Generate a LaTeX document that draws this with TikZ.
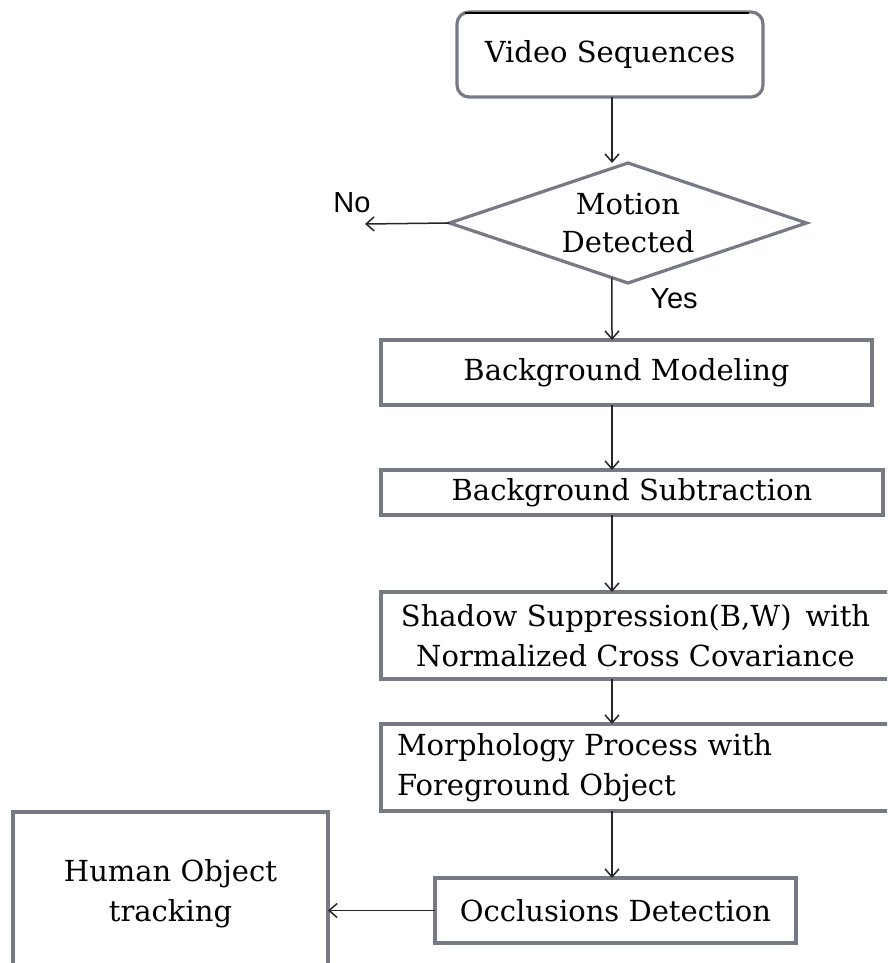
\documentclass[tikz,border=0pt]{standalone}
\usepackage{fontspec}
\setmainfont{DejaVu Serif}
\newfontfamily\labfont{Liberation Sans}
\usetikzlibrary{arrows.meta,shapes.geometric,calc}
\definecolor{boxgray}{RGB}{118,123,131}
\begin{document}
\begin{tikzpicture}[x=1pt,y=-1pt,
  box/.style={draw=boxgray,line width=3.2pt,fill=white,inner sep=0pt,outer sep=0pt,
    font=\fontsize{29}{40}\selectfont,align=center,text=black},
  arr/.style={draw=black!85,line width=1.5pt,-{Straight Barb[length=8pt,width=14pt,line width=1.5pt]}},
  lab/.style={font=\labfont\fontsize{29}{34}\selectfont,inner sep=0pt}]
\useasboundingbox (0,0) rectangle (887,963);
\clip (0,0) rectangle (887,963);
\fill[white] (0,0) rectangle (887,963);

\node[box,rounded corners=12pt,minimum width=306pt,minimum height=85pt] (vid) at (610,54.5) {Video Sequences};
\node[box,diamond,aspect=2.975,minimum width=357pt,minimum height=120pt] (dia) at (628,223) {Motion\\[-2pt]Detected};
\node[box,minimum width=491pt,minimum height=65pt] (bm) at (626.5,372.5) {Background Modeling};
\node[box,minimum width=502pt,minimum height=45pt] (bs) at (632,492.5) {Background Subtraction};
\node[box,minimum width=509pt,minimum height=87pt] (sh) at (635.5,635.5) {Shadow Suppression(B,W)\, with\\Normalized Cross Covariance};
\node[box,minimum width=509pt,minimum height=87pt,text width=477pt,inner xsep=16pt,align=left] (mo) at (635.5,767.5) {Morphology Process with\\Foreground Object};
\node[box,minimum width=361pt,minimum height=65pt] (oc) at (615.5,910.5) {Occlusions Detection};
\node[box,minimum width=315pt,minimum height=163pt] (hu) at (170.5,893.5) {Human Object\\tracking};

\coordinate (ax) at (612,0);
\coordinate (noend) at (365,224);

\draw[arr] (vid.south -| ax) -- (dia.north -| ax);
\draw[arr] ($(dia.south)!0.09!(dia.west)$) -- (bm.north -| ax);
\draw[arr] (dia.west) -- (noend);
\draw[arr] (bm.south -| ax) -- (bs.north -| ax);
\draw[arr] (bs.south -| ax) -- (sh.north -| ax);
\draw[arr] (sh.south -| ax) -- (mo.north -| ax);
\draw[arr] (mo.south -| ax) -- (oc.north -| ax);
\draw[arr] (oc.west) -- (hu.east |- oc.west);

\node[lab] (no) at (352,203) {No};
\node[lab] (yes) at (674,299) {Yes};

\draw[line width=1.6pt] (465,13) -- (749,13);
\end{tikzpicture}
\end{document}
